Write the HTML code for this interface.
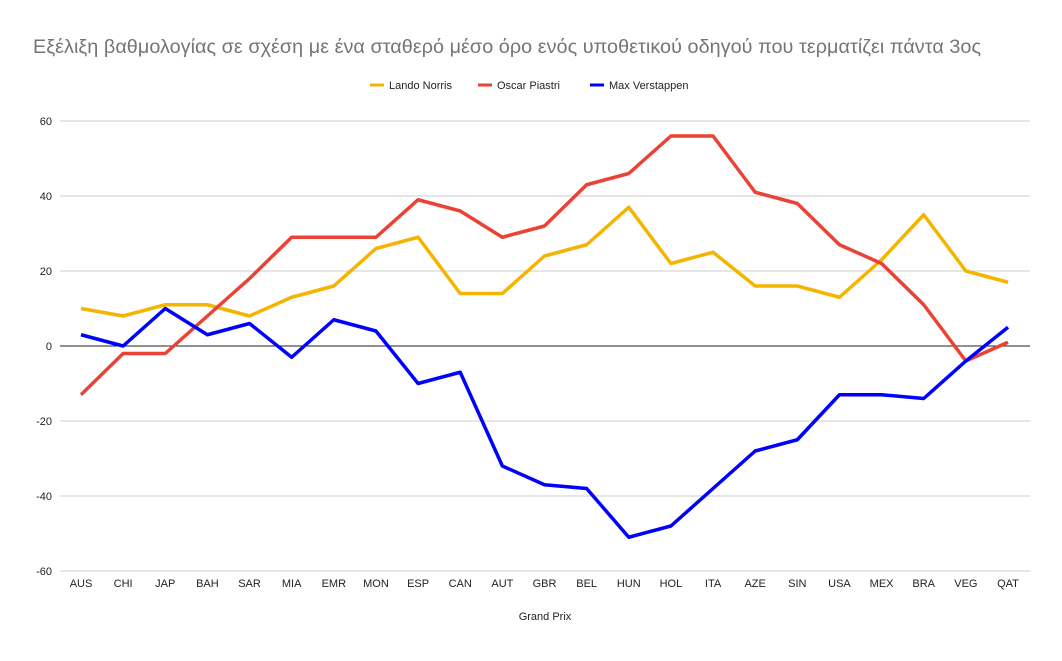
<!DOCTYPE html>
<html><head><meta charset="utf-8"><style>
body{margin:0;background:#fff;font-family:"Liberation Sans",Arial,sans-serif;}
svg text{font-family:"Liberation Sans",Arial,sans-serif;}
</style></head><body>
<svg id="chart" width="1062" height="656">
<text x="33" y="53" font-size="19.8" textLength="948" fill="#757575">Εξέλιξη βαθμολογίας σε σχέση με ένα σταθερό μέσο όρο ενός υποθετικού οδηγού που τερματίζει πάντα 3ος</text>
<g>
<g><line x1="370" y1="85" x2="384" y2="85" stroke="#f4b400" stroke-width="3"/><text x="389" y="89" font-size="11" fill="#222">Lando Norris</text></g>
<g><line x1="478" y1="85" x2="492" y2="85" stroke="#ea4335" stroke-width="3"/><text x="497" y="89" font-size="11" fill="#222">Oscar Piastri</text></g>
<g><line x1="590" y1="85" x2="604" y2="85" stroke="#0000ff" stroke-width="3"/><text x="609" y="89" font-size="11" fill="#222">Max Verstappen</text></g>
</g>
<g id="grid"></g>
<g id="series"></g>
<text x="545" y="620" font-size="11" text-anchor="middle" fill="#222">Grand Prix</text>
</svg>
<script>
const categories=["AUS","CHI","JAP","BAH","SAR","MIA","EMR","MON","ESP","CAN","AUT","GBR","BEL","HUN","HOL","ITA","AZE","SIN","USA","MEX","BRA","VEG","QAT"];
const norris=[10,8,11,11,8,13,16,26,29,14,14,24,27,37,22,25,16,16,13,23,35,20,17];
const piastri=[-13,-2,-2,8,18,29,29,29,39,36,29,32,43,46,56,56,41,38,27,22,11,-4,1];
const verstappen=[3,0,10,3,6,-3,7,4,-10,-7,-32,-37,-38,-51,-48,-38,-28,-25,-13,-13,-14,-4,5];
const yTicks=[-60,-40,-20,0,20,40,60];
const NS="http://www.w3.org/2000/svg";
const x=i=>81+i*(1008-81)/(categories.length-1);
const y=v=>346-v*3.75;
const grid=document.getElementById('grid'),ser=document.getElementById('series');
function mk(t,a,p){const e=document.createElementNS(NS,t);for(const k in a)e.setAttribute(k,a[k]);p.appendChild(e);return e;}
yTicks.forEach(v=>{
 const l=mk('line',{x1:60,x2:1030,y1:y(v),y2:y(v),stroke:v===0?'#222':'#ccc','stroke-width':1},grid);
 
 
 const t=mk('text',{x:52,y:y(v)+4,'font-size':11,'text-anchor':'end',fill:'#222'},grid);t.textContent=v;
 
 
});
categories.forEach((c,i)=>{
 const t=mk('text',{x:x(i),y:587,'font-size':11,'text-anchor':'middle',fill:'#222'},grid);t.textContent=c;
 
 
});
[[norris,'#f4b400','line-norris'],[piastri,'#ea4335','line-piastri'],[verstappen,'#0000ff','line-verstappen']].forEach(([d,c,n])=>{
 const p=mk('polyline',{points:d.map((v,i)=>x(i)+','+y(v)).join(' '),fill:'none',stroke:c,'stroke-width':3.5,'stroke-linejoin':'round'},ser);
 
 
});
</script>
</body></html>
